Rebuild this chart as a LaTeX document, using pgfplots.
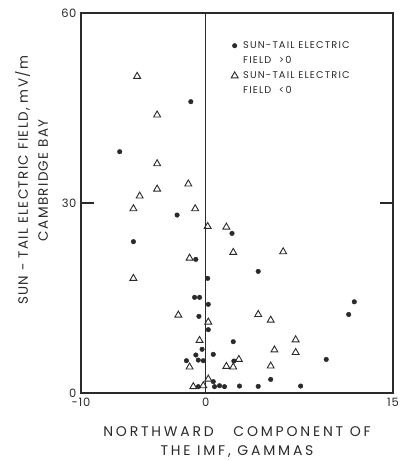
\documentclass[border=0pt]{standalone}
\usepackage{pgfplots}
\pgfplotsset{compat=1.18}
\usepackage{fontspec}
\setmainfont{Poppins}[LetterSpace=6]
\newfontfamily\xlabfont{Poppins}[LetterSpace=20]
\newfontfamily\ylabfont{Poppins}[LetterSpace=10]
\newfontfamily\legfont{Poppins}[LetterSpace=12]
\definecolor{ink}{HTML}{2A2A2A}
\begin{document}
\begin{tikzpicture}
\useasboundingbox (-81pt,-68pt) rectangle (319pt,393pt);
\begin{axis}[
  scale only axis,
  width=312pt, height=380pt,
  xmin=-10, xmax=15, ymin=0, ymax=60,
  axis line style={ink, line width=1.3pt},
  xtick={-10,0,15}, xticklabels={-10,0,15},
  ytick={0,30,60}, yticklabels={0,30,60},
  x tick style={draw=none},
  y tick style={ink, line width=1.1pt},
  tick align=inside, ytick pos=both,
  major tick length=13pt,
  tick label style={font=\fontsize{11.5}{12}\selectfont, text=ink},
  yticklabel style={xshift=-1pt},
  xticklabel style={yshift=-2pt},
  xlabel={\begin{tabular}{@{}c@{}}NORTHWARD\ \ \ COMPONENT OF\\THE IMF, GAMMAS\end{tabular}},
  xlabel style={font=\xlabfont\fontsize{14}{19}\selectfont, text=ink,
    at={(axis description cs:0.5,-0.13)}, anchor=center},
  ylabel={\begin{tabular}{@{}c@{}}SUN - TAIL ELECTRIC FIELD, mV/m\\CAMBRIDGE BAY\end{tabular}},
  ylabel style={font=\ylabfont\fontsize{13.5}{20}\selectfont, text=ink,
    at={(axis description cs:-0.151,0.56)}, anchor=center},
  legend style={at={(rel axis cs:0.455,0.936)}, anchor=north west, draw=none, fill=none,
    font=\legfont\fontsize{9.8}{12}\selectfont, text=ink, row sep=2.5pt,
    /tikz/every odd column/.append style={column sep=3pt}},
  legend cell align=left,
]
\addplot[ink, line width=1pt, forget plot] coordinates {(0,0) (0,60)};
\addplot[only marks, mark=*, mark size=2.3pt, ink, mark options={fill=ink}] coordinates {
(-1.2,46.0) (-6.9,38.1) (-2.3,28.1) (2.1,25.2) (-5.8,23.9) (-0.8,21.1)
(4.2,19.2) (0.15,18.1) (-0.9,15.1) (-0.5,15.1) (0.2,14.0) (11.9,14.4)
(11.45,12.4) (-0.55,12.1) (0.2,10.0) (2.2,8.1) (-0.3,6.9) (-0.8,6.0)
(0.6,6.1) (-0.6,5.2) (-0.2,5.1) (-1.55,5.1) (2.25,5.05) (9.65,5.3)
(5.2,2.15) (0.6,1.8) (0.7,1.0) (-0.6,1.0) (1.1,1.15) (1.5,1.0)
(2.7,1.1) (4.2,1.05) (7.6,1.1)
};
\addlegendentry{SUN-TAIL ELECTRIC}
\addlegendimage{empty legend}
\addlegendentry{FIELD \ >0}
\addplot[only marks, mark=triangle, mark size=4pt, ink, line width=0.9pt, mark options={fill=white}] coordinates {
(-5.5,50.0) (-3.9,43.9) (-3.9,36.2) (-1.4,33.0) (-3.9,32.2) (-5.3,31.1)
(-5.8,29.1) (-0.85,29.1) (0.15,26.3) (1.65,26.2) (2.2,22.2) (6.2,22.3)
(-1.3,21.3) (-5.8,18.1) (-2.2,12.3) (4.2,12.4) (5.2,11.5) (0.2,11.2)
(-0.5,8.3) (7.2,8.4) (5.5,6.8) (7.2,6.4) (2.65,5.3) (-1.3,4.1)
(1.65,4.2) (2.2,4.1) (5.2,4.26) (0.2,2.2) (-1.0,1.0) (-0.2,1.15)
};
\addlegendentry{SUN-TAIL ELECTRIC}
\addlegendimage{empty legend}
\addlegendentry{FIELD \ <0}
\end{axis}
\end{tikzpicture}
\end{document}
